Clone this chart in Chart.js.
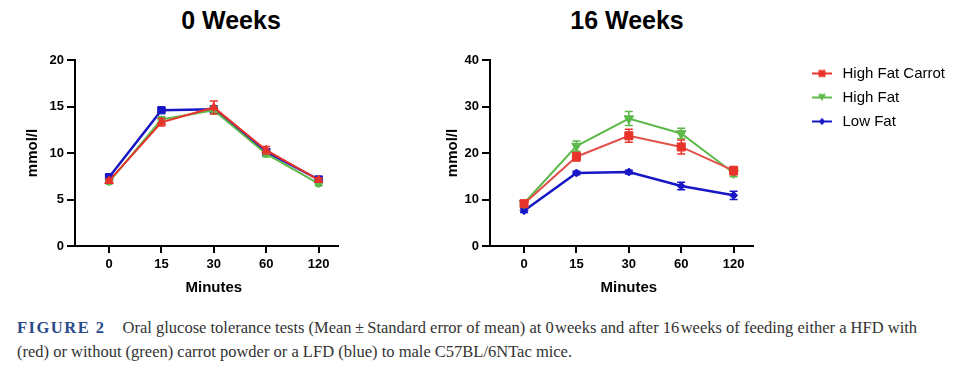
<!DOCTYPE html>
<html>
<head>
<meta charset="utf-8">
<script src="https://cdn.jsdelivr.net/npm/chart.js@4.4.0/dist/chart.umd.min.js"></script>
<style>
  html, body { margin: 0; padding: 0; background: #fff; width: 960px; height: 373px; overflow: hidden; position: relative; }
  canvas { position: absolute; }
  .title { position: absolute; top: 8px; font: bold 25px/25px "Liberation Sans", Arial, sans-serif; color: #000; transform: translateX(-50%); white-space: nowrap; }
  #caption { position: absolute; left: 17px; top: 316px; width: 943px; font: 16.5px/24px "Liberation Serif", "Times New Roman", serif; color: #333; white-space: nowrap; }
  #caption b { color: #2b4a8a; letter-spacing: 1.5px; margin-right: 17px; }
</style>
</head>
<body>
<div class="title" style="left:231px">0 Weeks</div>
<div class="title" style="left:627px">16 Weeks</div>
<canvas id="week0" width="345" height="310" style="left:0;top:0"></canvas>
<canvas id="week16" width="345" height="310" style="left:415px;top:0"></canvas>
<canvas id="legend" width="330" height="90" style="left:800px;top:57px"></canvas>
<div id="caption"><b>FIGURE 2</b>Oral glucose tolerance tests (Mean&thinsp;±&thinsp;Standard error of mean) at 0&#8202;weeks and after 16&#8202;weeks of feeding either a HFD with<br>(red) or without (green) carrot powder or a LFD (blue) to male C57BL/6NTac mice.</div>

<script>
const minutes = ['0', '15', '30', '60', '120'];
const seriesNames = ['High Fat Carrot', 'High Fat', 'Low Fat'];

// 0 weeks, mmol/l
const week0Carrot = [7.0, 13.3, 14.9, 10.3, 7.1];
const week0CarrotErr = [0.2, 0.4, 0.7, 0.4, 0.2];
const week0HighFat = [6.9, 13.6, 14.6, 9.9, 6.7];
const week0HighFatErr = [0.2, 0.3, 0.4, 0.3, 0.2];
const week0LowFat = [7.4, 14.6, 14.7, 10.1, 7.15];
const week0LowFatErr = [0.2, 0.2, 0.3, 0.3, 0.2];

// 16 weeks, mmol/l
const week16Carrot = [9.1, 19.2, 23.7, 21.3, 16.2];
const week16CarrotErr = [0.5, 0.9, 1.4, 1.5, 0.9];
const week16HighFat = [9.2, 21.5, 27.4, 24.2, 15.7];
const week16HighFatErr = [0.5, 1.1, 1.5, 1.1, 0.8];
const week16LowFat = [7.6, 15.7, 15.9, 12.9, 10.9];
const week16LowFatErr = [0.4, 0.4, 0.4, 0.8, 0.9];

const red = '#e8332b', redLine = '#e2504a';
const green = '#5cb94a';
const blue = '#1717c6';

Chart.defaults.font.family = '"Liberation Sans", Arial, sans-serif';
Chart.defaults.color = '#000';

function points(values) {
  return values.map((v, i) => ({ x: i, y: v }));
}

// mean +/- sem bars, drawn under each dataset's markers
const errorBars = {
  id: 'errorBars',
  beforeDatasetDraw(chart, args) {
    const ds = chart.data.datasets[args.index];
    if (!ds.err) return;
    const ctx = chart.ctx;
    const y = chart.scales.y;
    ctx.save();
    ctx.strokeStyle = ds.pointBackgroundColor;
    ctx.lineWidth = 1.5;
    args.meta.data.forEach((pt, i) => {
      const v = ds.data[i].y;
      const top = y.getPixelForValue(v + ds.err[i]);
      const bot = y.getPixelForValue(v - ds.err[i]);
      ctx.beginPath();
      ctx.moveTo(pt.x, top); ctx.lineTo(pt.x, bot);
      ctx.moveTo(pt.x - 4, top); ctx.lineTo(pt.x + 4, top);
      ctx.moveTo(pt.x - 4, bot); ctx.lineTo(pt.x + 4, bot);
      ctx.stroke();
    });
    ctx.restore();
  }
};

// axis title centred on the middle category, like the original
const xTitle = {
  id: 'xTitle',
  afterDraw(chart) {
    const x = chart.scales.x;
    const ctx = chart.ctx;
    ctx.save();
    ctx.font = 'bold 15px "Liberation Sans", Arial, sans-serif';
    ctx.fillStyle = '#000';
    ctx.textAlign = 'center';
    ctx.textBaseline = 'middle';
    ctx.fillText('Minutes', x.getPixelForValue(2), 287.5);
    ctx.restore();
  }
};

function makeChart(id, yMax, yStep, yTitlePad, sets) {
  return new Chart(document.getElementById(id), {
    type: 'line',
    data: {
      datasets: sets.map(s => ({
        label: s.label,
        data: points(s.values),
        err: s.err,
        borderColor: s.line,
        backgroundColor: s.color,
        pointBackgroundColor: s.color,
        pointBorderColor: s.color,
        pointBorderWidth: 1,
        borderWidth: s.width,
        pointStyle: s.style,
        rotation: s.rotation || 0,
        pointRadius: s.radius,
        tension: 0
      }))
    },
    options: {
      responsive: false,
      animation: false,
      layout: { padding: { top: 60, right: 7, bottom: 9, left: 0 } },
      plugins: { legend: { display: false }, tooltip: { enabled: false } },
      scales: {
        x: {
          type: 'linear',
          min: -0.65,
          max: 4.37,
          afterBuildTicks: s => { s.ticks = minutes.map((m, i) => ({ value: i })); },
          afterFit: s => { s.height = 55; },
          ticks: { callback: v => minutes[v], font: { size: 13, weight: 'bold' }, padding: 4, maxRotation: 0, autoSkip: false },
          grid: { drawOnChartArea: false, tickLength: 7, color: '#000', lineWidth: 2 },
          border: { color: '#000', width: 2 }
        },
        y: {
          min: 0,
          max: yMax,
          afterFit: s => { s.width = 75; },
          ticks: { stepSize: yStep, font: { size: 13, weight: 'bold' }, padding: 3 },
          title: { display: true, text: 'mmol/l', font: { size: 15, weight: 'bold' }, padding: { top: yTitlePad, bottom: 0 } },
          grid: { drawOnChartArea: false, tickLength: 8, color: '#000', lineWidth: 2 },
          border: { color: '#000', width: 2 }
        }
      }
    },
    plugins: [errorBars, xTitle]
  });
}

makeChart('week0', 20, 5, 24, [
  { label: seriesNames[0], values: week0Carrot, err: week0CarrotErr, color: red, line: red, width: 2, style: 'triangle', radius: 5 },
  { label: seriesNames[1], values: week0HighFat, err: week0HighFatErr, color: green, line: green, width: 2, style: 'circle', radius: 3.5 },
  { label: seriesNames[2], values: week0LowFat, err: week0LowFatErr, color: blue, line: blue, width: 2.5, style: 'rect', radius: 5.2 }
]);

makeChart('week16', 40, 10, 29, [
  { label: seriesNames[0], values: week16Carrot, err: week16CarrotErr, color: red, line: redLine, width: 2, style: 'rect', radius: 5.7 },
  { label: seriesNames[1], values: week16HighFat, err: week16HighFatErr, color: green, line: green, width: 2, style: 'triangle', rotation: 180, radius: 5.5 },
  { label: seriesNames[2], values: week16LowFat, err: week16LowFatErr, color: blue, line: blue, width: 2.5, style: 'rectRot', radius: 4 }
]);

// legend symbols: short line with the series marker
function legendSymbol(color, shape) {
  const c = document.createElement('canvas');
  c.width = 22; c.height = 12;
  const g = c.getContext('2d');
  g.strokeStyle = color; g.fillStyle = color; g.lineWidth = 2;
  g.beginPath(); g.moveTo(1, 6); g.lineTo(21, 6); g.stroke();
  g.beginPath();
  if (shape === 'square') g.rect(7.5, 2.5, 7, 7);
  if (shape === 'down') { g.moveTo(7, 2.5); g.lineTo(15, 2.5); g.lineTo(11, 9.5); }
  if (shape === 'diamond') { g.moveTo(11, 2.5); g.lineTo(14.5, 6); g.lineTo(11, 9.5); g.lineTo(7.5, 6); }
  g.closePath(); g.fill();
  return c;
}
const legendColors = [red, green, blue];
const legendShapes = ['square', 'down', 'diamond'];

new Chart(document.getElementById('legend'), {
  type: 'line',
  data: {
    datasets: seriesNames.map((n, i) => ({ label: n, data: [], borderColor: legendColors[i], backgroundColor: legendColors[i] }))
  },
  options: {
    responsive: false,
    animation: false,
    layout: { padding: 0 },
    scales: { x: { display: false }, y: { display: false } },
    plugins: {
      tooltip: { enabled: false },
      legend: {
        position: 'left',
        align: 'start',
        labels: {
          usePointStyle: true,
          pointStyleWidth: 26,
          padding: 9,
          color: '#222',
          font: { size: 15 },
          generateLabels: chart => chart.data.datasets.map((d, i) => ({
            text: d.label,
            pointStyle: legendSymbol(legendColors[i], legendShapes[i]),
            fillStyle: legendColors[i],
            strokeStyle: legendColors[i],
            lineWidth: 0,
            hidden: false,
            datasetIndex: i
          }))
        }
      }
    }
  }
});
</script>
</body>
</html>
